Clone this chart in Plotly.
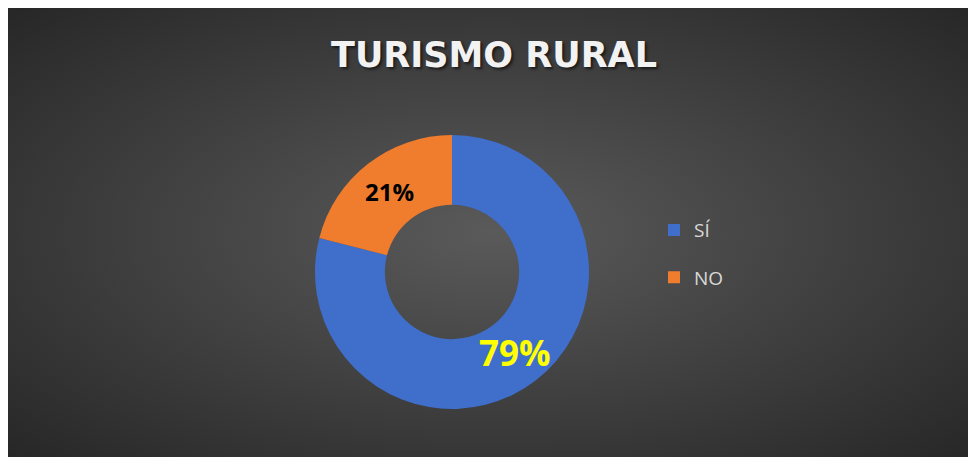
import base64
import math
import plotly.graph_objects as go

# ---- data ----
categories = ["SÍ", "NO"]
values = [79, 21]
slice_colors = ["#3F6FCB", "#F07C2E"]
label_colors = ["#FFFF00", "#000000"]
label_sizes = [35, 24]
title_text = "TURISMO RURAL"

W, H = 968, 450
HOLE = 0.49
CX, CY, R = 444, 264, 137  # donut centre (px from top-left) and radius

dom_x = [(CX - R) / W, (CX + R) / W]
dom_y = [(H - CY - R) / H, (H - CY + R) / H]

# radial gradient background as an SVG image
svg = f'''<svg xmlns="http://www.w3.org/2000/svg" width="{W}" height="{H}" viewBox="0 0 {W} {H}" preserveAspectRatio="none">
<defs><radialGradient id="g" cx="0.5" cy="0.5" r="0.72">
<stop offset="0" stop-color="#5a5a5a"/><stop offset="1" stop-color="#262626"/>
</radialGradient></defs>
<rect width="{W}" height="{H}" fill="url(#g)"/></svg>'''
bg_uri = "data:image/svg+xml;base64," + base64.b64encode(svg.encode()).decode()

legend_names = [f'<span style="font-size:19px;baseline-shift:6px">{c}</span>' for c in categories]

total = sum(values)
pct = [f"{round(100 * v / total)}%" for v in values]

# labels placed at the middle of each ring segment (computed from the values)
annotations = []
cum = 0
for v, p, col, sz in zip(values, pct, label_colors, label_sizes):
    theta = 2 * math.pi * (cum + v / 2) / total  # clockwise from 12 o'clock
    cum += v
    rr = R * (1 - (1 - HOLE) / 2)
    annotations.append(dict(
        text=p, showarrow=False, xref="paper", yref="paper",
        x=(dom_x[0] + dom_x[1]) / 2 + rr * math.sin(theta) / W,
        y=(dom_y[0] + dom_y[1]) / 2 + rr * math.cos(theta) / H,
        xanchor="center", yanchor="middle",
        font=dict(family="Open Sans", size=sz, color=col, weight="bold"),
    ))

fig = go.Figure(go.Pie(
    labels=legend_names,
    values=values,
    hole=HOLE,
    sort=False,
    direction="clockwise",
    rotation=0,
    marker=dict(colors=slice_colors, line=dict(width=0)),
    textinfo="none",
    domain=dict(x=dom_x, y=dom_y),
    hoverinfo="skip",
))

fig.update_layout(
    width=W, height=H,
    margin=dict(l=0, r=0, t=0, b=0),
    paper_bgcolor="#3a3a3a",
    plot_bgcolor="rgba(0,0,0,0)",
    images=[dict(source=bg_uri, xref="paper", yref="paper", x=0, y=1, sizex=1, sizey=1,
                 xanchor="left", yanchor="top", sizing="stretch", layer="below")],
    annotations=annotations,
    title=dict(text=title_text, x=486 / W, xanchor="center", y=1 - 47 / H, yanchor="middle",
               font=dict(family="DejaVu Sans", size=35, color="#F2F2F2", weight="bold",
                         shadow="2px 2px 3px rgba(0,0,0,0.6)")),
    legend=dict(x=646 / W, xanchor="left", y=1 - 246 / H, yanchor="middle",
                font=dict(family="Open Sans", size=34, color="#D9D9D9"),
                bgcolor="rgba(0,0,0,0)"),
)

fig.write_html("out.html")
